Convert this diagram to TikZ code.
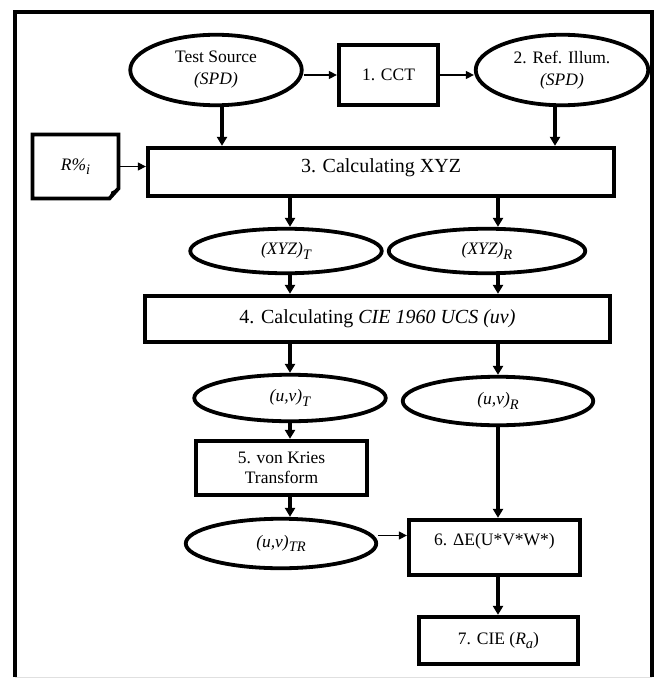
\documentclass[tikz,border=0pt]{standalone}
\usepackage{fontspec}
\setmainfont{Liberation Serif}
\usetikzlibrary{shapes.geometric,arrows.meta}
\newcommand\sbs[1]{\raisebox{-4.5pt}{\fontsize{14.5}{14.5}\selectfont #1}}
\begin{document}
\begin{tikzpicture}[x=1pt,y=-1pt,
  txt/.style={font=\fontsize{17.5}{22}\selectfont},
  bigtxt/.style={font=\fontsize{20}{24}\selectfont},
  box/.style={draw, line width=3.8pt, rectangle, inner sep=0pt, align=center, txt},
  oval/.style={draw, line width=3.8pt, ellipse, inner sep=0pt, align=center, txt},
  thickarrow/.style={line width=3.5pt, -{Triangle[length=9pt,width=10pt]}},
  thinarrow/.style={line width=1.3pt, -{Triangle[length=8pt,width=8pt]}},
  frameline/.style={line width=3.5pt},
]
\useasboundingbox (0,0) rectangle (654,679);
\fill[white] (0,0) rectangle (654,679);
% frame
\draw[frameline] (15,677) -- (15,12) -- (652,12) -- (652,677);
\draw[black!12, line width=1pt] (15,677.5) -- (652,677.5);

\coordinate (cl) at (290,0);
\coordinate (cr) at (498,0);

% nodes
\node[oval, minimum width=171.5pt, minimum height=70.5pt] (ts) at (216,70) {Test Source\\\textit{(SPD)}};
\node[box, minimum width=99.5pt, minimum height=60.5pt] (cct) at (388.5,75) {1. CCT};
\node[oval, minimum width=172.5pt, minimum height=70.5pt] (ri) at (562,70) {2. Ref. Illum.\\\textit{(SPD)}};

\node[txt, inner sep=0pt, minimum width=85.5pt, minimum height=63.5pt] (rp) at (75.5,166.5) {\textit{R\%\sbs{i}}};
\draw[line width=3.8pt] (rp.north west) -- (rp.north east) -- ([yshift=10pt]rp.south east) -- ([xshift=-9pt]rp.south east) -- (rp.south west) -- cycle;
\fill ([yshift=10pt]rp.south east) -- ([xshift=-9pt]rp.south east) -- ([xshift=-7pt,yshift=7pt]rp.south east) -- cycle;

\node[box, bigtxt, minimum width=466.5pt, minimum height=48.5pt, text height=7pt, text depth=7pt] (b3) at (381,172) {3. Calculating XYZ};

\node[oval, minimum width=191.5pt, minimum height=44.5pt] (xyzT) at (286,251) {\textit{(XYZ)\sbs{T}}};
\node[oval, minimum width=196.5pt, minimum height=44.5pt] (xyzR) at (487,251) {\textit{(XYZ)\sbs{R}}};

\node[box, bigtxt, minimum width=465.5pt, minimum height=46.5pt] (b4) at (377.5,319) {4. Calculating \textit{CIE 1960 UCS (uv)}};

\node[oval, minimum width=191.5pt, minimum height=46.5pt] (uvT) at (290,398) {\textit{(u,v)\sbs{T}}};
\node[oval, minimum width=190.5pt, minimum height=48.5pt] (uvR) at (498,401) {\textit{(u,v)\sbs{R}}};

\node[box, font=\fontsize{17.5}{20.5}\selectfont, minimum width=171.5pt, minimum height=54.5pt] (b5) at (281.5,468) {5. von Kries\\Transform};

\node[oval, minimum width=190.5pt, minimum height=49.5pt] (uvTR) at (281,543.5) {\textit{(u,v)\sbs{TR}}};

\node[box, minimum width=171.5pt, minimum height=55.5pt, text height=6pt, text depth=9.4pt] (b6) at (494.5,547.5) {6. ΔE(U*V*W*)};
\node[box, minimum width=159.5pt, minimum height=47.5pt] (b7) at (498.5,640.5) {7. CIE (\textit{R\sbs{a}})};

% connectors
\draw[thinarrow] (ts.east |- cct.center) -- (cct.west);
\draw[thinarrow] (cct.east) -- (ri.west |- cct.center);
\draw[thickarrow] ([xshift=6pt]ts.south) -- ([xshift=6pt]ts.south |- b3.north);
\draw[thickarrow] ([xshift=-7pt]ri.south) -- ([xshift=-7pt]ri.south |- b3.north);
\draw[thinarrow] (rp.east) -- (b3.west |- rp.east);
\draw[thickarrow] (b3.south -| cl) -- (xyzT.north -| cl);
\draw[thickarrow] (b3.south -| cr) -- (xyzR.north -| cr);
\draw[thickarrow] (xyzT.south -| cl) -- (b4.north -| cl);
\draw[thickarrow] (xyzR.south -| cr) -- (b4.north -| cr);
\draw[thickarrow] (b4.south -| cl) -- (uvT.north -| cl);
\draw[thickarrow] (b4.south -| cr) -- (uvR.north -| cr);
\draw[thickarrow] (uvT.south -| cl) -- (b5.north -| cl);
\draw[thickarrow] (b5.south -| cl) -- (uvTR.north -| cl);
\draw[thickarrow] (uvR.south -| cr) -- (b6.north -| cr);
\coordinate (tr) at ([yshift=8pt]uvTR.east);
\draw[thinarrow] (tr) -- (tr -| b6.west);
\draw[thickarrow] (b6.south -| cr) -- (b7.north -| cr);
\end{tikzpicture}
\end{document}
